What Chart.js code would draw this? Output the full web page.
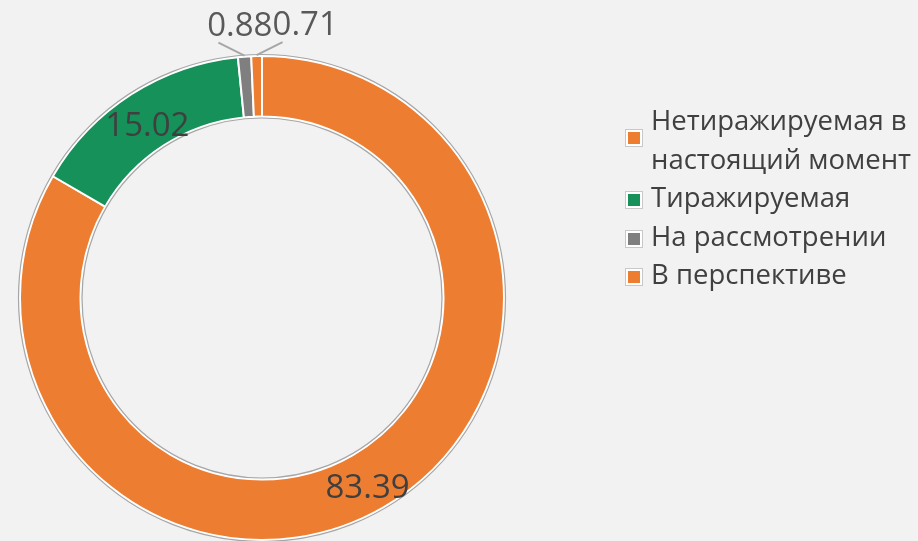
<!DOCTYPE html>
<html>
<head>
<meta charset="utf-8">
<script src="https://cdn.jsdelivr.net/npm/chart.js@4.4.0/dist/chart.umd.min.js"></script>
<style>
  html, body { margin: 0; padding: 0; background: #f2f2f2; }
  #wrap { position: relative; width: 918px; height: 541px; overflow: hidden; }
  #chart { position: absolute; left: 0; top: 0; }
  #legend { position: absolute; left: 626px; top: 101px; font-family: "Open Sans", "Noto Sans", sans-serif; font-size: 27.5px; color: #404040; }
  .item { position: relative; padding-left: 25px; line-height: 38.5px; white-space: pre; }
  .mark { position: absolute; left: 0; width: 12px; height: 12px; border: 2px solid #fff; outline: 1px solid #c8c8c8; }
</style>
</head>
<body>
<div id="wrap">
  <canvas id="chart" width="918" height="541"></canvas>
  <div id="legend"></div>
</div>
<script>
// Data
const categories = ['Нетиражируемая в настоящий момент', 'Тиражируемая', 'На рассмотрении', 'В перспективе'];
const legendLines = [['Нетиражируемая в', 'настоящий момент'], ['Тиражируемая'], ['На рассмотрении'], ['В перспективе']];
const values = [83.39, 15.02, 0.88, 0.71];
const colors = ['#ed7d31', '#16915a', '#7f7f7f', '#ed7d31'];

// Ring outline + value labels
const labelPlugin = {
    id: 'labelPlugin',
    afterDatasetsDraw(chart) {
        const ctx = chart.ctx;
        const arcs = chart.getDatasetMeta(0).data;
        const a0 = arcs[0];
        ctx.save();
        ctx.strokeStyle = '#a6a6a6';
        ctx.lineWidth = 1.2;
        ctx.beginPath();
        ctx.arc(a0.x, a0.y, a0.outerRadius + 1.5, 0, Math.PI * 2);
        ctx.stroke();
        ctx.beginPath();
        ctx.arc(a0.x, a0.y, a0.innerRadius - 1.5, 0, Math.PI * 2);
        ctx.stroke();

        ctx.font = '33px "Open Sans", "Noto Sans", sans-serif';
        ctx.textBaseline = 'middle';
        arcs.forEach(function(arc, i) {
            const mid = (arc.startAngle + arc.endAngle) / 2;
            const txt = values[i].toFixed(2);
            if (values[i] > 5) {
                const r = (arc.outerRadius + arc.innerRadius) / 2;
                ctx.fillStyle = '#3f3f3f';
                ctx.textAlign = 'center';
                ctx.fillText(txt, arc.x + Math.cos(mid) * r, arc.y + Math.sin(mid) * r + 7);
            } else {
                // small slices: label above the ring with a leader line
                const ax = arc.x + Math.cos(mid) * (arc.outerRadius + 1);
                const ay = arc.y + Math.sin(mid) * (arc.outerRadius + 1);
                const left = i === 2;
                const ex = left ? ax - 26 : ax + 26;
                const ey = ay - 13;
                ctx.strokeStyle = '#a6a6a6';
                ctx.lineWidth = 2;
                ctx.beginPath();
                ctx.moveTo(ax, ay);
                ctx.lineTo(ex, ey);
                ctx.stroke();
                ctx.fillStyle = '#595959';
                ctx.textAlign = left ? 'right' : 'left';
                ctx.fillText(txt, left ? ax + 28 : ax + 16, ey - 16);
            }
        });
        ctx.restore();
    }
};

const chart = new Chart(document.getElementById('chart'), {
    type: 'doughnut',
    data: {
        labels: categories,
        datasets: [{
            data: values,
            backgroundColor: colors,
            borderColor: '#ffffff',
            borderWidth: 2
        }]
    },
    options: {
        responsive: false,
        animation: false,
        cutout: '75%',
        layout: { padding: { left: 19, right: 413, top: 55, bottom: 0 } },
        plugins: {
            legend: { display: false },
            tooltip: { enabled: false }
        }
    },
    plugins: [labelPlugin]
});

// HTML legend
const legend = document.getElementById('legend');
legendLines.forEach(function(lines, i) {
    const item = document.createElement('div');
    item.className = 'item';
    const mark = document.createElement('span');
    mark.className = 'mark';
    mark.style.background = colors[i];
    mark.style.top = (lines.length > 1 ? 29 : 14) + 'px';
    item.appendChild(mark);
    item.appendChild(document.createTextNode(lines.join('\n')));
    legend.appendChild(item);
});
</script>
</body>
</html>
